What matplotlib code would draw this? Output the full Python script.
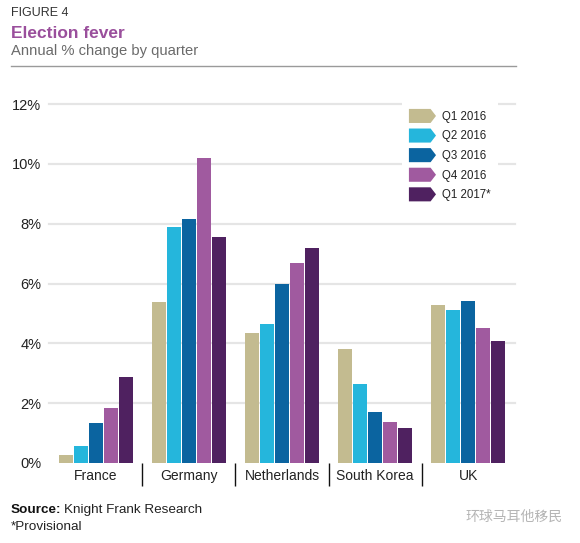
import matplotlib
matplotlib.use("Agg")
import matplotlib.pyplot as plt
import numpy as np
from matplotlib.patches import Polygon, Patch
from matplotlib.legend_handler import HandlerPatch

plt.rcParams['font.family'] = ['Liberation Sans', 'DejaVu Sans']

countries = ["France", "Germany", "Netherlands", "South Korea", "UK"]
series_names = ["Q1 2016", "Q2 2016", "Q3 2016", "Q4 2016", "Q1 2017*"]
q1_2016 = [0.28, 5.37, 4.33, 3.80, 5.27]
q2_2016 = [0.58, 7.90, 4.63, 2.63, 5.13]
q3_2016 = [1.34, 8.17, 6.00, 1.70, 5.40]
q4_2016 = [1.84, 10.21, 6.67, 1.37, 4.50]
q1_2017 = [2.87, 7.57, 7.17, 1.17, 4.07]
yticks = [0, 2, 4, 6, 8, 10, 12]
ytick_labels = ["0%", "2%", "4%", "6%", "8%", "10%", "12%"]

colors = ["#c3bb90", "#25b6dc", "#0b64a0", "#a05a9f", "#4f2160"]
series = [q1_2016, q2_2016, q3_2016, q4_2016, q1_2017]

W, H = 580, 543
fig = plt.figure(figsize=(W / 100, H / 100), dpi=100)
ax = fig.add_axes([49 / W, 1 - 463 / H, (515 - 49) / W, (463 - 104) / H])

x = np.arange(len(countries))
step = 15 / 93
bw = 14 / 93
for i, (vals, c, name) in enumerate(zip(series, colors, series_names)):
    ax.bar(x + (i - 2) * step, vals, width=bw, color=c, label=name, zorder=3)

ax.set_xlim(-0.5, len(countries) - 0.5)
ax.set_ylim(0, 12)
for t in yticks[1:]:
    ax.axhline(t, color="#e5e5e5", lw=1.6, zorder=1, clip_on=False)

ax.set_yticks(yticks)
ax.set_yticklabels(ytick_labels, fontsize=10.5, color="#222222")
ax.tick_params(axis="y", length=0, pad=5.5)
ax.set_xticks(x)
ax.set_xticklabels(countries, fontsize=10, color="#222222")
ax.set_xticks(x[:-1] + 0.5, minor=True)
ax.tick_params(axis="x", which="major", length=0, pad=4.5)
ax.tick_params(axis="x", which="minor", length=16.5, width=1.0, color="#111111", direction="out")
for s in ax.spines.values():
    s.set_visible(False)


class ArrowHandler(HandlerPatch):
    def create_artists(self, legend, orig_handle, xdescent, ydescent, width, height, fontsize, trans):
        x0, y0 = -xdescent, -ydescent
        pts = [[x0, y0], [x0 + width * 0.8, y0], [x0 + width, y0 + height / 2],
               [x0 + width * 0.8, y0 + height], [x0, y0 + height]]
        p = Polygon(pts, closed=True, facecolor=orig_handle.get_facecolor(),
                    edgecolor="none", transform=trans)
        return [p]


handles = [Patch(facecolor=c) for c in colors]
leg = ax.legend(handles, series_names, handler_map={Patch: ArrowHandler()},
                loc="upper left", bbox_to_anchor=(402 / W, 1 - 102 / H),
                bbox_transform=fig.transFigure, fontsize=8.3, frameon=True,
                facecolor="white", edgecolor="none", framealpha=1,
                handlelength=2.35, handleheight=1.5, labelspacing=0.48,
                handletextpad=0.55, borderpad=0.6, borderaxespad=0, fancybox=False)
for t in leg.get_texts():
    t.set_color("#222222")
leg.set_zorder(5)

# Header
fig.text(11 / W, 1 - 13 / H, "FIGURE 4", fontsize=9, color="#333333", va="center", ha="left")
fig.text(11 / W, 1 - 33 / H, "Election fever", fontsize=12.5, fontweight="bold",
         color="#9a4f9c", va="center", ha="left")
fig.text(11 / W, 1 - 51 / H, "Annual % change by quarter", fontsize=10.6, color="#6a6a6a",
         va="center", ha="left")
fig.add_artist(plt.Line2D([11 / W, 516 / W], [1 - 66 / H, 1 - 66 / H],
                          transform=fig.transFigure, color="#9a9a9a", lw=1))

# Footer
t1 = fig.text(11 / W, 1 - 510 / H, "Source:", fontsize=9.7, fontweight="bold",
              color="#111111", va="center", ha="left")
ax.annotate("Knight Frank Research", xy=(1, 0.5), xycoords=t1, xytext=(1.5, 0),
            textcoords="offset points", fontsize=9.7, color="#222222",
            va="center", ha="left", annotation_clip=False)
fig.text(11 / W, 1 - 527 / H, "*Provisional", fontsize=9.7, color="#222222",
         va="center", ha="left")
fig.text(465 / W, 1 - 517 / H, "环球马耳他移民", fontsize=10, color="#b5b5b5",
         va="center", ha="left", family=["Noto Sans CJK SC", "DejaVu Sans"])

fig.savefig("out.png", dpi=100)
